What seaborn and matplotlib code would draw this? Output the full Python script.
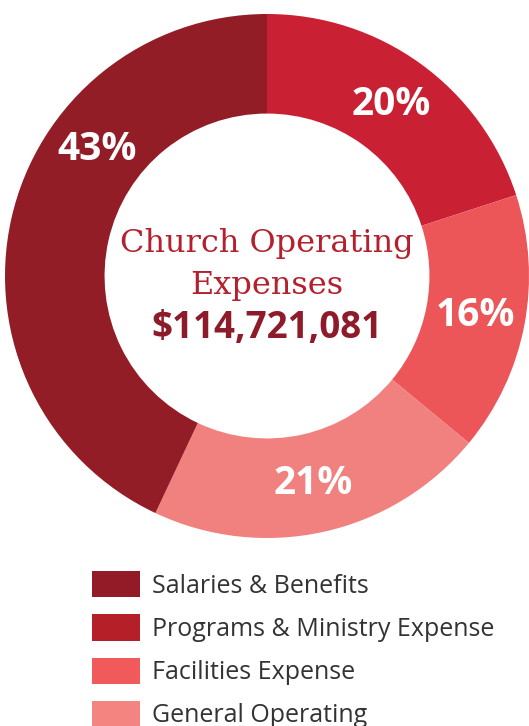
import numpy as np
import matplotlib
matplotlib.use("Agg")
import matplotlib.pyplot as plt
import seaborn as sns
from matplotlib.patches import Patch

# data, in clockwise order from 12 o'clock
categories = ['Programs & Ministry Expense', 'Facilities Expense',
              'General Operating', 'Salaries & Benefits']
shares = [20, 16, 21, 43]
ring_colors = ['#C92133', '#EC5658', '#F1817E', '#931D26']
legend_order = ['Salaries & Benefits', 'Programs & Ministry Expense',
                'Facilities Expense', 'General Operating']
legend_colors = ['#931A27', '#B51F27', '#F05A5B', '#F3847F']
title_lines = ['Church Operating', 'Expenses']
center_total = '$114,721,081'

sns.set_theme(style='white')
plt.rcParams['font.family'] = ['Open Sans', 'DejaVu Sans']

fig = plt.figure(figsize=(5.29, 7.26), dpi=100)
ax = fig.add_axes([5 / 529, 188 / 726, 524 / 529, 524 / 726])

wedges, _ = ax.pie(shares, colors=ring_colors, startangle=90, counterclock=False,
                   radius=1.0, wedgeprops=dict(width=0.38, linewidth=0))
ax.set_xlim(-1, 1)
ax.set_ylim(-1, 1)
ax.set_aspect('equal')
ax.axis('off')

# percentage labels in the middle of the ring
label_r = 0.81
shift = {'Salaries & Benefits': 24}   # this one sits above its mid angle
for w, cat, val in zip(wedges, categories, shares):
    mid = (w.theta1 + w.theta2) / 2 - shift.get(cat, 0)
    ang = np.deg2rad(mid)
    ax.text(label_r * np.cos(ang), label_r * np.sin(ang), f'{val}%',
            ha='center', va='center', color='white', fontsize=28,
            fontweight='bold', family=['Open Sans', 'DejaVu Sans'])

for y, line in zip([0.125, -0.035], title_lines):
    ax.text(0, y, line, ha='center', va='center', color='#B4202E',
            fontsize=23, family=['DejaVu Serif'])
ax.text(0, -0.2, center_total, ha='center', va='center', color='#8E1B2A',
        fontsize=26.5, fontweight='bold', family=['Open Sans', 'DejaVu Sans'])

handles = [Patch(facecolor=c, edgecolor='none') for c in legend_colors]
fig.legend(handles, legend_order, loc='upper left',
           bbox_to_anchor=(92 / 529, 1 - 571 / 726), frameon=False,
           fontsize=18, handlelength=1.92, handleheight=1.24,
           handletextpad=0.48, labelspacing=0.63, labelcolor='#333333',
           borderaxespad=0, borderpad=0)

fig.savefig('out.png', dpi=100)
